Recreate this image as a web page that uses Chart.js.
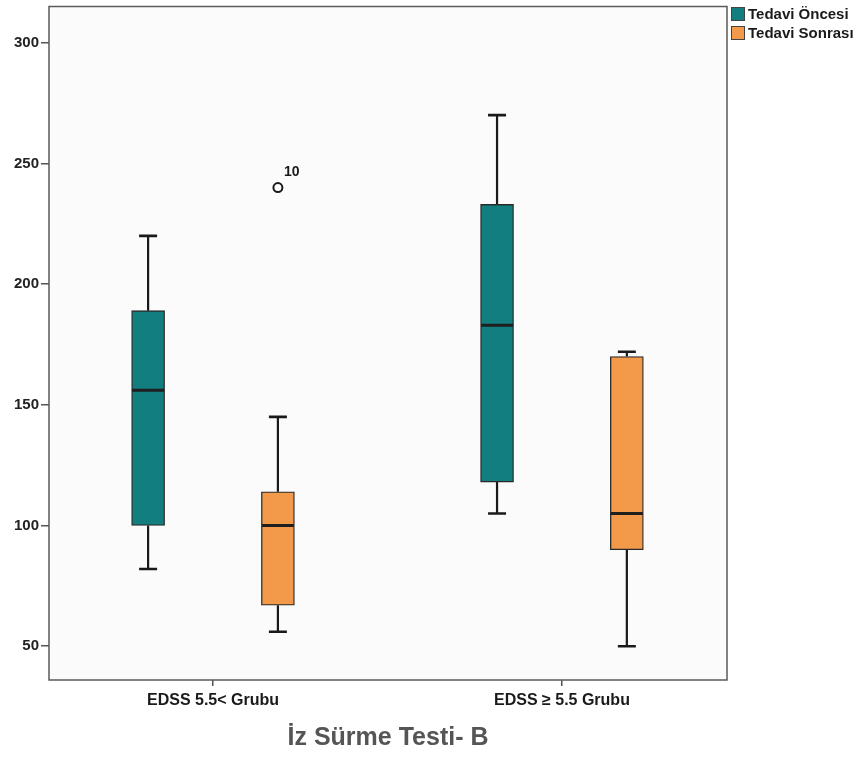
<!DOCTYPE html>
<html>
<head>
<meta charset="utf-8">
<script src="https://cdn.jsdelivr.net/npm/chart.js@4.4.1/dist/chart.umd.min.js"></script>
<style>
  html, body { margin: 0; padding: 0; background: #ffffff; }
  #wrap { width: 863px; height: 757px; }
</style>
</head>
<body>
<div id="wrap"><canvas id="c" width="863" height="757"></canvas></div>
<script>
// Groups along the x axis
const categories = ['EDSS 5.5< Grubu', 'EDSS \u2265 5.5 Grubu'];
const seriesNames = ['Tedavi \u00d6ncesi', 'Tedavi Sonras\u0131'];
const seriesColors = ['#137e7f', '#f2994a'];

// Five-number summaries, one entry per group
const oncesiMin    = [82, 105];
const oncesiQ1     = [100, 118];
const oncesiMedian = [156, 183];
const oncesiQ3     = [189, 233];
const oncesiMax    = [220, 270];

const sonrasiMin    = [56, 50];
const sonrasiQ1     = [67, 90];
const sonrasiMedian = [100, 105];
const sonrasiQ3     = [114, 170];
const sonrasiMax    = [145, 172];

// Outlying case (group index, value, case label) for the post-treatment series
const outlierGroup = [0];
const outlierValue = [240];
const outlierLabel = ['10'];

const yTickValues = [50, 100, 150, 200, 250, 300];
const xTitle = '\u0130z S\u00fcrme Testi- B';

const boxShift = 0.186; // half distance between the two boxes of a group (x units)

const summaries = [
  { min: oncesiMin, q1: oncesiQ1, med: oncesiMedian, q3: oncesiQ3, max: oncesiMax, shift: -boxShift },
  { min: sonrasiMin, q1: sonrasiQ1, med: sonrasiMedian, q3: sonrasiQ3, max: sonrasiMax, shift: boxShift }
];

const boxDatasets = summaries.map((s, k) => ({
  type: 'bar',
  label: seriesNames[k],
  data: categories.map((c, i) => ({ x: i + s.shift, y: [s.q1[i], s.q3[i]] })),
  backgroundColor: seriesColors[k],
  borderColor: '#2a2a2a',
  borderWidth: 1.3,
  borderSkipped: false,
  grouped: false,
  barThickness: 33,
  order: 2
}));

const outlierDataset = {
  type: 'scatter',
  label: 'outlier',
  data: outlierGroup.map((g, j) => ({ x: g + boxShift, y: outlierValue[j] })),
  pointRadius: 4.5,
  pointBackgroundColor: '#ffffff',
  pointBorderColor: '#1a1a1a',
  pointBorderWidth: 2,
  order: 1
};

const boxPlotPlugin = {
  id: 'boxPlot',
  beforeDraw(chart) {
    const { ctx, chartArea: a } = chart;
    ctx.save();
    ctx.fillStyle = '#fbfbfb';
    ctx.fillRect(a.left, a.top, a.right - a.left, a.bottom - a.top);
    ctx.restore();
  },
  beforeDatasetsDraw(chart) {
    const { ctx, scales: { x, y } } = chart;
    ctx.save();
    ctx.strokeStyle = '#1a1a1a';
    summaries.forEach(s => {
      categories.forEach((c, i) => {
        const px = x.getPixelForValue(i + s.shift);
        const capHalf = 9;
        ctx.lineWidth = 2.2;
        ctx.beginPath();
        ctx.moveTo(px, y.getPixelForValue(s.max[i]));
        ctx.lineTo(px, y.getPixelForValue(s.q3[i]));
        ctx.moveTo(px, y.getPixelForValue(s.q1[i]));
        ctx.lineTo(px, y.getPixelForValue(s.min[i]));
        ctx.stroke();
        ctx.lineWidth = 2.6;
        ctx.beginPath();
        [s.max[i], s.min[i]].forEach(v => {
          const py = y.getPixelForValue(v);
          ctx.moveTo(px - capHalf, py);
          ctx.lineTo(px + capHalf, py);
        });
        ctx.stroke();
      });
    });
    ctx.restore();
  },
  afterDatasetsDraw(chart) {
    const { ctx, scales: { x, y } } = chart;
    ctx.save();
    // medians
    ctx.strokeStyle = '#1f1f1f';
    ctx.lineWidth = 3;
    summaries.forEach(s => {
      categories.forEach((c, i) => {
        const px = x.getPixelForValue(i + s.shift);
        const py = y.getPixelForValue(s.med[i]);
        ctx.beginPath();
        ctx.moveTo(px - 16, py);
        ctx.lineTo(px + 16, py);
        ctx.stroke();
      });
    });
    // outlier case labels
    ctx.fillStyle = '#1a1a1a';
    ctx.font = 'bold 14px "Liberation Sans", Arial, sans-serif';
    ctx.textAlign = 'left';
    ctx.textBaseline = 'middle';
    outlierGroup.forEach((g, j) => {
      const px = x.getPixelForValue(g + boxShift);
      const py = y.getPixelForValue(outlierValue[j]);
      ctx.fillText(outlierLabel[j], px + 6, py - 15);
    });
    ctx.restore();
  },
  afterDraw(chart) {
    const { ctx, chartArea: a } = chart;
    ctx.save();
    // frame of the plot area
    ctx.strokeStyle = '#5a5a5a';
    ctx.lineWidth = 1.5;
    ctx.strokeRect(a.left, a.top, a.right - a.left, a.bottom - a.top);
    // legend
    const lx = a.right + 4;
    ctx.font = 'bold 15px "Liberation Sans Narrow", "Liberation Sans", Arial, sans-serif';
    ctx.textAlign = 'left';
    ctx.textBaseline = 'middle';
    seriesNames.forEach((name, k) => {
      const ly = 7 + k * 19;
      ctx.fillStyle = seriesColors[k];
      ctx.fillRect(lx, ly, 14, 14);
      ctx.strokeStyle = '#444';
      ctx.lineWidth = 1;
      ctx.strokeRect(lx + 0.5, ly + 0.5, 13, 13);
      ctx.fillStyle = '#1a1a1a';
      ctx.fillText(name, lx + 17, ly + 7.5);
    });
    ctx.restore();
  }
};

new Chart(document.getElementById('c'), {
  data: { datasets: [...boxDatasets, outlierDataset] },
  options: {
    responsive: false,
    animation: false,
    layout: { padding: { top: 3, right: 136, left: 0, bottom: 0 } },
    plugins: {
      legend: { display: false },
      tooltip: { enabled: false }
    },
    scales: {
      x: {
        type: 'linear',
        offset: false,
        min: -0.47,
        max: 1.473,
        afterBuildTicks: s => { s.ticks = categories.map((c, i) => ({ value: i })); },
        afterFit: s => { s.height = 77; s.paddingLeft = 0; s.paddingRight = 0; },
        grid: { offset: false, drawOnChartArea: false, tickLength: 6, color: '#555', lineWidth: 1.5 },
        border: { display: false },
        ticks: {
          padding: 5,
          color: '#1a1a1a',
          font: { family: '"Liberation Sans Narrow", "Liberation Sans", Arial, sans-serif', size: 16, weight: 'bold' },
          callback: v => categories[Math.round(v)]
        },
        title: {
          display: true,
          text: xTitle,
          color: '#555555',
          padding: { top: 0, bottom: 4 },
          font: { family: '"Liberation Sans", Arial, sans-serif', size: 25, weight: 'bold' }
        }
      },
      y: {
        type: 'linear',
        min: 36,
        max: 315,
        afterBuildTicks: s => { s.ticks = yTickValues.map(v => ({ value: v })); },
        afterFit: s => { s.width = 49; s.paddingTop = 0; s.paddingBottom = 0; },
        grid: { drawOnChartArea: false, tickLength: 8, color: '#555', lineWidth: 1.5 },
        border: { display: false },
        ticks: {
          padding: 2,
          color: '#222',
          font: { family: '"Liberation Sans", Arial, sans-serif', size: 15, weight: 'bold' }
        }
      }
    }
  },
  plugins: [boxPlotPlugin]
});
</script>
</body>
</html>
